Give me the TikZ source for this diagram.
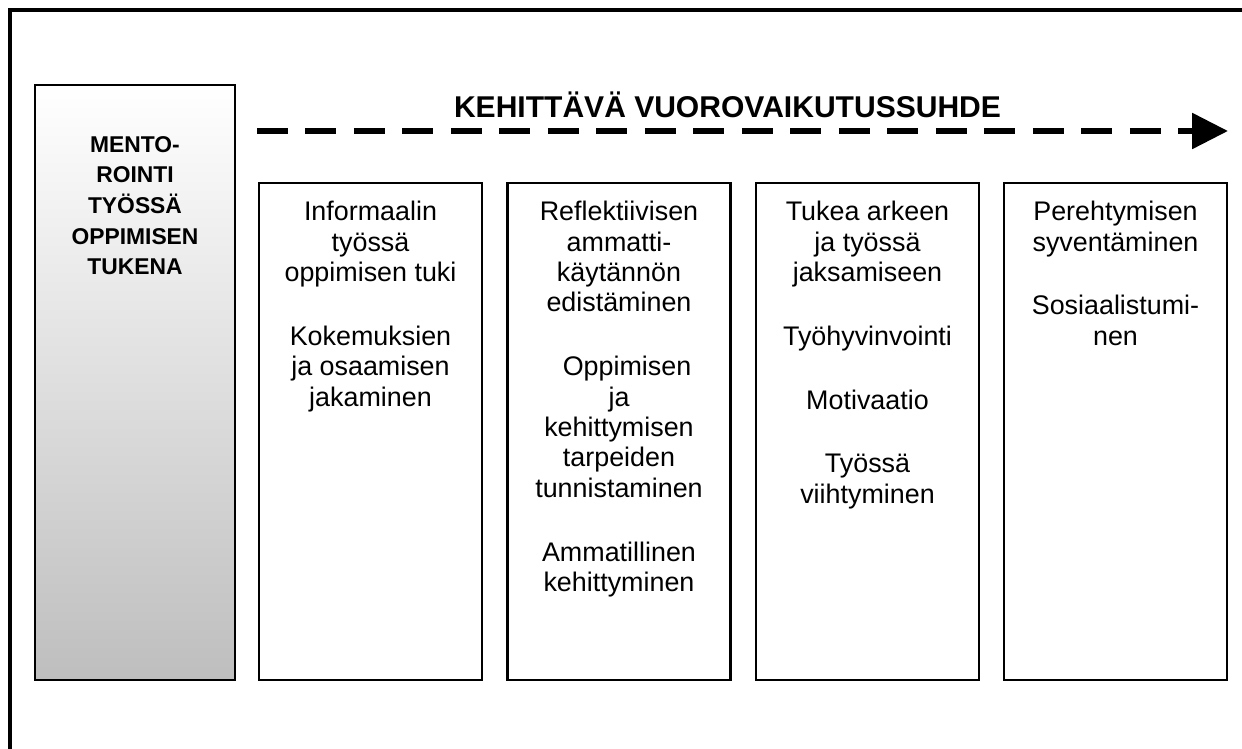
\documentclass[tikz,border=0pt]{standalone}
\usepackage{fontspec}
\setmainfont{Liberation Sans}
\usetikzlibrary{positioning,arrows.meta}
\definecolor{mentogray}{HTML}{BEBEBE}
\newcommand{\parskipgap}{\\[19pt]}
\tikzset{
  colbox/.style={draw,rectangle,line width=1.3pt,minimum width=4.46cm,minimum height=9.94cm},
  coltext/.style={inner sep=0pt,align=center,font=\fontsize{15.3}{17.3}\selectfont},
  mentobox/.style={draw,rectangle,line width=1pt,minimum width=4cm,minimum height=11.9cm,
    top color=white,bottom color=mentogray},
  mentotext/.style={inner sep=0pt,align=center,font=\bfseries\fontsize{13}{17.4}\selectfont}
}
\begin{document}
\begin{tikzpicture}[x=0.02cm,y=-0.02cm]
  \useasboundingbox (0,0) rectangle (1242,749);
  % frame
  \draw[line width=1.9pt] (10,749) -- (10,10) -- (1242,10);
  % left box
  \node[mentobox] (mento) at (135,382.5) {};
  \node[mentotext,below=29.5pt of mento.north] (mentot) {MENTO-\\ROINTI\\TYÖSSÄ\\OPPIMISEN\\TUKENA};
  % arrow with title
  \coordinate (arrowstart) at (257,131);
  \coordinate (arrowend) at (1228,131);
  \draw[line width=3.4pt,dash pattern=on 17.6pt off 10pt,-{Triangle[length=20.4pt,width=19.8pt]}] (arrowstart) -- (arrowend);
  \node[inner sep=0pt,anchor=base,font=\bfseries\fontsize{17.1}{20}\selectfont] (title) at (727.5,118) {KEHITTÄVÄ VUOROVAIKUTUSSUHDE};
  % columns
  \node[colbox] (c1) at (370.5,431.5) {};
  \node[colbox] (c2) at (619,431.5) {};
  \node[colbox] (c3) at (867.5,431.5) {};
  \node[colbox] (c4) at (1115.5,431.5) {};
  \node[coltext,below=10.8pt of c1.north] (t1) {Informaalin\\työssä\\oppimisen tuki\parskipgap
    Kokemuksien\\ja osaamisen\\jakaminen};
  \node[coltext,below=10.8pt of c2.north] (t2) {Reflektiivisen\\ammatti-\\käytännön\\edistäminen\parskipgap
    \hspace*{0.6em}Oppimisen\\ja\\kehittymisen\\tarpeiden\\tunnistaminen\parskipgap
    Ammatillinen\\kehittyminen};
  \node[coltext,below=10.8pt of c3.north] (t3) {Tukea arkeen\\ja työssä\\jaksamiseen\parskipgap
    Työhyvinvointi\parskipgap Motivaatio\parskipgap Työssä\\viihtyminen};
  \node[coltext,below=10.8pt of c4.north] (t4) {Perehtymisen\\syventäminen\parskipgap
    Sosiaalistumi-\\nen};
\end{tikzpicture}
\end{document}
